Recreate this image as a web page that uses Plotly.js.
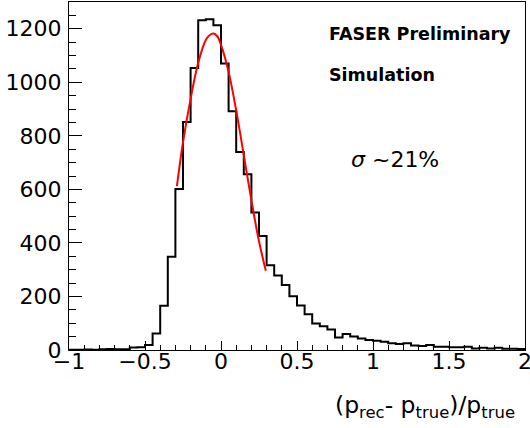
<!DOCTYPE html>
<html>
<head>
<meta charset="utf-8">
<script src="https://cdn.plot.ly/plotly-3.0.1.min.js"></script>
<style>html,body{margin:0;padding:0;background:#fff;}#chart{width:530px;height:428px;}</style>
</head>
<body>
<div id="chart"></div>
<script>
// Histogram bin left edges (bin width 0.05)
var binLeft = [-1.00,-0.95,-0.90,-0.85,-0.80,-0.75,-0.70,-0.65,-0.60,-0.55,
               -0.50,-0.45,-0.40,-0.35,-0.30,-0.25,-0.20,-0.15,-0.10,-0.05,
                0.00, 0.05, 0.10, 0.15, 0.20, 0.25, 0.30, 0.35, 0.40, 0.45,
                0.50, 0.55, 0.60, 0.65, 0.70, 0.75, 0.80, 0.85, 0.90, 0.95,
                1.00, 1.05, 1.10, 1.15, 1.20, 1.25, 1.30, 1.35, 1.40, 1.45,
                1.50, 1.55, 1.60, 1.65, 1.70, 1.75, 1.80, 1.85, 1.90, 1.95];
var binEnd = 2.0;
var counts = [1,1,2,1,3,4,3,3,9,10,
              19,62,165,348,601,852,1053,1232,1236,1213,
              1070,892,740,657,514,426,317,278,243,201,
              166,134,99,89,77,47,60,50,43,37,
              35,31,25,22,25,17,15,19,12,12,
              10,10,12,6,8,6,8,5,5,4];
// Fit curve
var fitX = [-0.29,-0.25,-0.2,-0.15,-0.1,-0.075,-0.05,-0.025,0,0.05,0.1,0.15,0.2,0.25,0.295];
var fitY = [612,776,938,1073,1158,1176,1182,1172,1140,1039,895,728,559,406,296];

var yTicks = [0,200,400,600,800,1000,1200];
var xTicks = [-1,-0.5,0,0.5,1,1.5,2];
var xTickText = ['\u22121','\u22120.5','0','0.5','1','1.5','2'];

var stepX = binLeft.concat([binEnd]);
var stepY = counts.concat([counts[counts.length-1]]);

var traces = [
  {x: stepX, y: stepY, type: 'scatter', mode: 'lines',
   line: {shape: 'hv', color: '#000000', width: 2}, hoverinfo: 'skip'},
  {x: fitX, y: fitY, type: 'scatter', mode: 'lines',
   line: {shape: 'spline', color: '#ff0000', width: 2}, hoverinfo: 'skip'}
];

var tickFont = {family: 'DejaVu Sans, sans-serif', size: 22, color: '#000'};

var layout = {
  width: 530, height: 428,
  margin: {l: 69, r: 5, t: 2, b: 78},
  paper_bgcolor: '#ffffff', plot_bgcolor: '#ffffff',
  showlegend: false,
  xaxis: {
    range: [-1, 2], tickvals: xTicks, ticktext: xTickText,
    ticks: 'inside', ticklen: 9, tickwidth: 1, tickcolor: '#000',
    minor: {dtick: 0.1, tick0: 0, ticks: 'inside', ticklen: 5, tickwidth: 1, tickcolor: '#000', showgrid: false},
    showgrid: false, zeroline: false,
    showline: true, mirror: true, linecolor: '#000', linewidth: 1,
    tickfont: tickFont, automargin: false, ticklabeloverflow: 'allow', ticklabelstandoff: -8
  },
  yaxis: {
    range: [0, 1300], tickvals: yTicks,
    ticks: 'inside', ticklen: 13, tickwidth: 1, tickcolor: '#000',
    minor: {dtick: 50, tick0: 0, ticks: 'inside', ticklen: 7, tickwidth: 1, tickcolor: '#000', showgrid: false},
    showgrid: false, zeroline: false,
    showline: true, mirror: true, linecolor: '#000', linewidth: 1,
    tickfont: tickFont, automargin: false, ticklabelstandoff: 2, ticklabeloverflow: 'allow'
  },
  annotations: [
    {text: '<b>FASER Preliminary</b>', xref: 'paper', yref: 'paper', x: 0.566, y: 0.908,
     xanchor: 'left', yanchor: 'middle', showarrow: false,
     font: {family: 'DejaVu Sans, sans-serif', size: 17.5, color: '#000'}},
    {text: '<b>Simulation</b>', xref: 'paper', yref: 'paper', x: 0.566, y: 0.790,
     xanchor: 'left', yanchor: 'middle', showarrow: false,
     font: {family: 'DejaVu Sans, sans-serif', size: 17.5, color: '#000'}},
    {text: '<i>\u03c3</i> ~21%', xref: 'paper', yref: 'paper', x: 0.614, y: 0.546,
     xanchor: 'left', yanchor: 'middle', showarrow: false,
     font: {family: 'DejaVu Sans, sans-serif', size: 22, color: '#000'}},
    {text: '(p<sub>rec</sub>- p<sub>true</sub>)/p<sub>true</sub>', xref: 'paper', yref: 'paper',
     x: 0.982, y: -0.112, xanchor: 'right', yanchor: 'top', showarrow: false,
     font: {family: 'DejaVu Sans, sans-serif', size: 23.5, color: '#000'}}
  ]
};

Plotly.newPlot('chart', traces, layout, {staticPlot: true, displayModeBar: false});
</script>
</body>
</html>
